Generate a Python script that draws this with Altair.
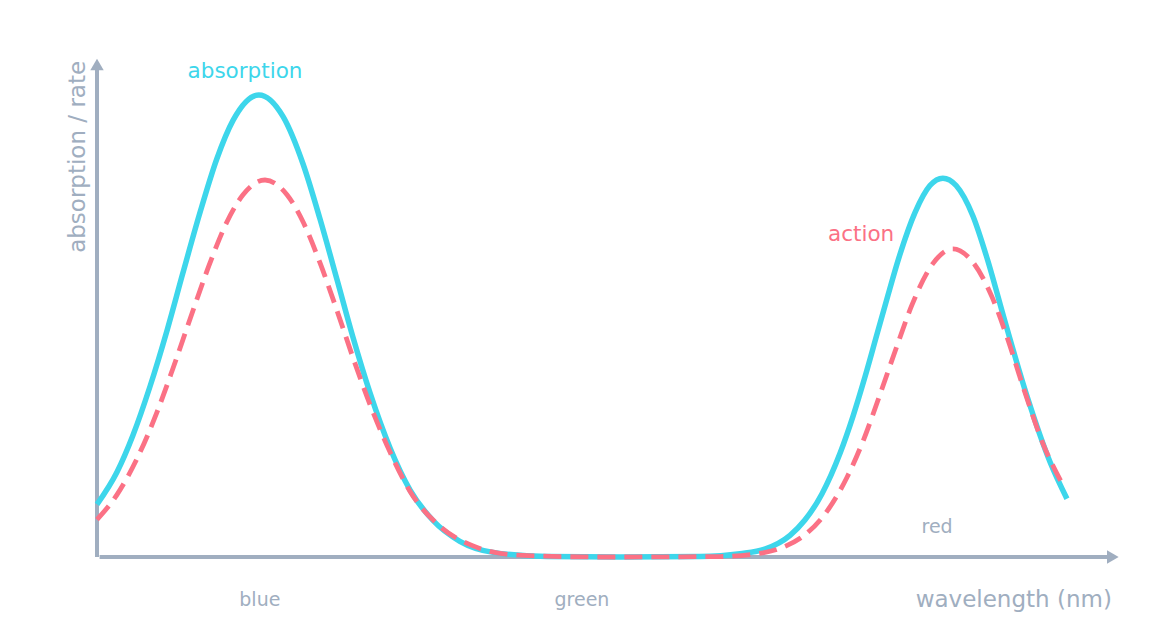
import altair as alt
import pandas as pd

# wavelength (nm) and relative absorption / rate (%)
abs_nm = [400.0, 406.2, 411.1, 416.4, 421.7, 426.6, 431.9, 437.1, 442.1, 450.1,
          457.6, 463.8, 469.0, 474.3, 479.2, 484.5, 490.7, 496.9, 504.0, 512.3,
          522.6, 539.3, 561.9, 586.6, 599.0, 606.7, 614.5, 619.1, 624.4, 630.0,
          634.0, 637.7, 641.4, 644.5, 648.2, 653.2, 657.8, 661.8, 665.9, 671.1,
          675.5, 681.0, 687.8, 695.0, 700.2]
abs_val = [11.4, 18.4, 26.3, 36.9, 49.1, 61.5, 74.6, 86.2, 94.5, 100.0,
           95.3, 85.0, 73.2, 60.0, 47.6, 35.5, 23.6, 14.5, 7.9, 3.4,
           1.0, 0.1, 0.0, 0.1, 0.7, 1.7, 4.7, 8.0, 13.7, 22.5,
           30.5, 39.0, 48.2, 55.9, 64.8, 74.6, 80.4, 82.0, 80.4, 73.8,
           64.6, 51.0, 34.9, 20.5, 12.6]

act_nm = [400.0, 406.2, 412.4, 418.6, 423.5, 428.8, 435.0, 440.2, 445.2, 452.0,
          458.8, 463.8, 469.0, 474.3, 479.2, 484.5, 490.7, 496.9, 506.2, 516.4,
          530.0, 555.7, 592.8, 606.1, 612.3, 619.1, 625.3, 632.1, 637.1, 642.3,
          647.6, 652.2, 658.7, 664.9, 671.1, 677.0, 681.6, 686.6, 692.8, 699.0]
act_val = [8.1, 13.5, 21.3, 31.4, 40.8, 51.5, 63.7, 72.5, 78.4, 81.6,
           78.4, 72.5, 63.7, 53.3, 43.2, 33.0, 22.7, 14.2, 6.6, 2.4,
           0.4, 0.0, 0.1, 0.9, 2.1, 4.8, 9.3, 17.2, 25.1, 35.1,
           45.7, 54.5, 63.5, 66.7, 63.8, 56.3, 47.7, 36.9, 24.5, 15.5]

# text labels under / above the axis
band_names = ["blue", "green", "red"]
band_nm = [450.4, 550.1, 660.0]
band_val = [-10.6, -10.6, 5.2]

CYAN = "#3dd6eb"
PINK = "#fb7185"
GRAY = "#a0aec0"
FONT = "DejaVu Sans"

X_DOMAIN = [400, 716]
Y_DOMAIN = [0, 108]


def xenc(field="nm"):
    return alt.X(f"{field}:Q", scale=alt.Scale(domain=X_DOMAIN, nice=False, zero=False), axis=None)


def yenc(field="val"):
    return alt.Y(f"{field}:Q", scale=alt.Scale(domain=Y_DOMAIN, nice=False, zero=False), axis=None)


absorption = pd.DataFrame({"nm": abs_nm, "val": abs_val})
action = pd.DataFrame({"nm": act_nm, "val": act_val})
bands = pd.DataFrame({"label": band_names, "nm": band_nm, "val": band_val})

# axes drawn as arrows
axes_df = pd.DataFrame({"nm": [400, 400.8], "nm2": [400, 713.5], "val": [0, 0], "val2": [106, 0]})
heads_df = pd.DataFrame({"nm": [400, 714.4], "val": [106.6, 0], "ang": [0, 90]})

axis_lines = alt.Chart(axes_df).mark_rule(color=GRAY, strokeWidth=4).encode(
    x=xenc(), x2="nm2:Q", y=yenc(), y2="val2:Q"
)
axis_heads = alt.Chart(heads_df).mark_point(
    shape="triangle-up", filled=True, opacity=1, color=GRAY, size=180
).encode(x=xenc(), y=yenc(), angle=alt.Angle("ang:Q", scale=None))

abs_line = alt.Chart(absorption).mark_line(
    color=CYAN, strokeWidth=5.5, interpolate="monotone"
).encode(x=xenc(), y=yenc())

act_line = alt.Chart(action).mark_line(
    color=PINK, strokeWidth=4.8, strokeDash=[18, 9], interpolate="monotone"
).encode(x=xenc(), y=yenc())

band_text = alt.Chart(bands).mark_text(
    color=GRAY, font=FONT, fontSize=19, align="center", baseline="alphabetic"
).encode(x=xenc(), y=yenc(), text="label:N")

abs_label = alt.Chart(pd.DataFrame({"nm": [445.8], "val": [103.7]})).mark_text(
    text="absorption", color=CYAN, font=FONT, fontSize=21.5, align="center", baseline="alphabetic"
).encode(x=xenc(), y=yenc())

act_label = alt.Chart(pd.DataFrame({"nm": [636.5], "val": [68.4]})).mark_text(
    text="action", color=PINK, font=FONT, fontSize=21.5, align="center", baseline="alphabetic"
).encode(x=xenc(), y=yenc())

x_title = alt.Chart(pd.DataFrame({"nm": [714.1], "val": [-10.8]})).mark_text(
    text="wavelength (nm)", color=GRAY, font=FONT, fontSize=23, align="right", baseline="alphabetic"
).encode(x=xenc(), y=yenc())

y_title = alt.Chart(pd.DataFrame({"nm": [396.3], "val": [86.6]})).mark_text(
    text="absorption / rate", color=GRAY, font=FONT, fontSize=23, angle=270,
    align="center", baseline="alphabetic"
).encode(x=xenc(), y=yenc())

chart = alt.layer(
    axis_lines, axis_heads, abs_line, act_line, band_text, abs_label, act_label, x_title, y_title
).properties(
    width=1021,
    height=499,
    autosize=alt.AutoSizeParams(type="none"),
    padding={"left": 89, "top": 50, "right": 40, "bottom": 70},
    background="white",
).configure_view(stroke=None)

chart.save("out.html", embed_options={"renderer": "svg", "actions": False})
